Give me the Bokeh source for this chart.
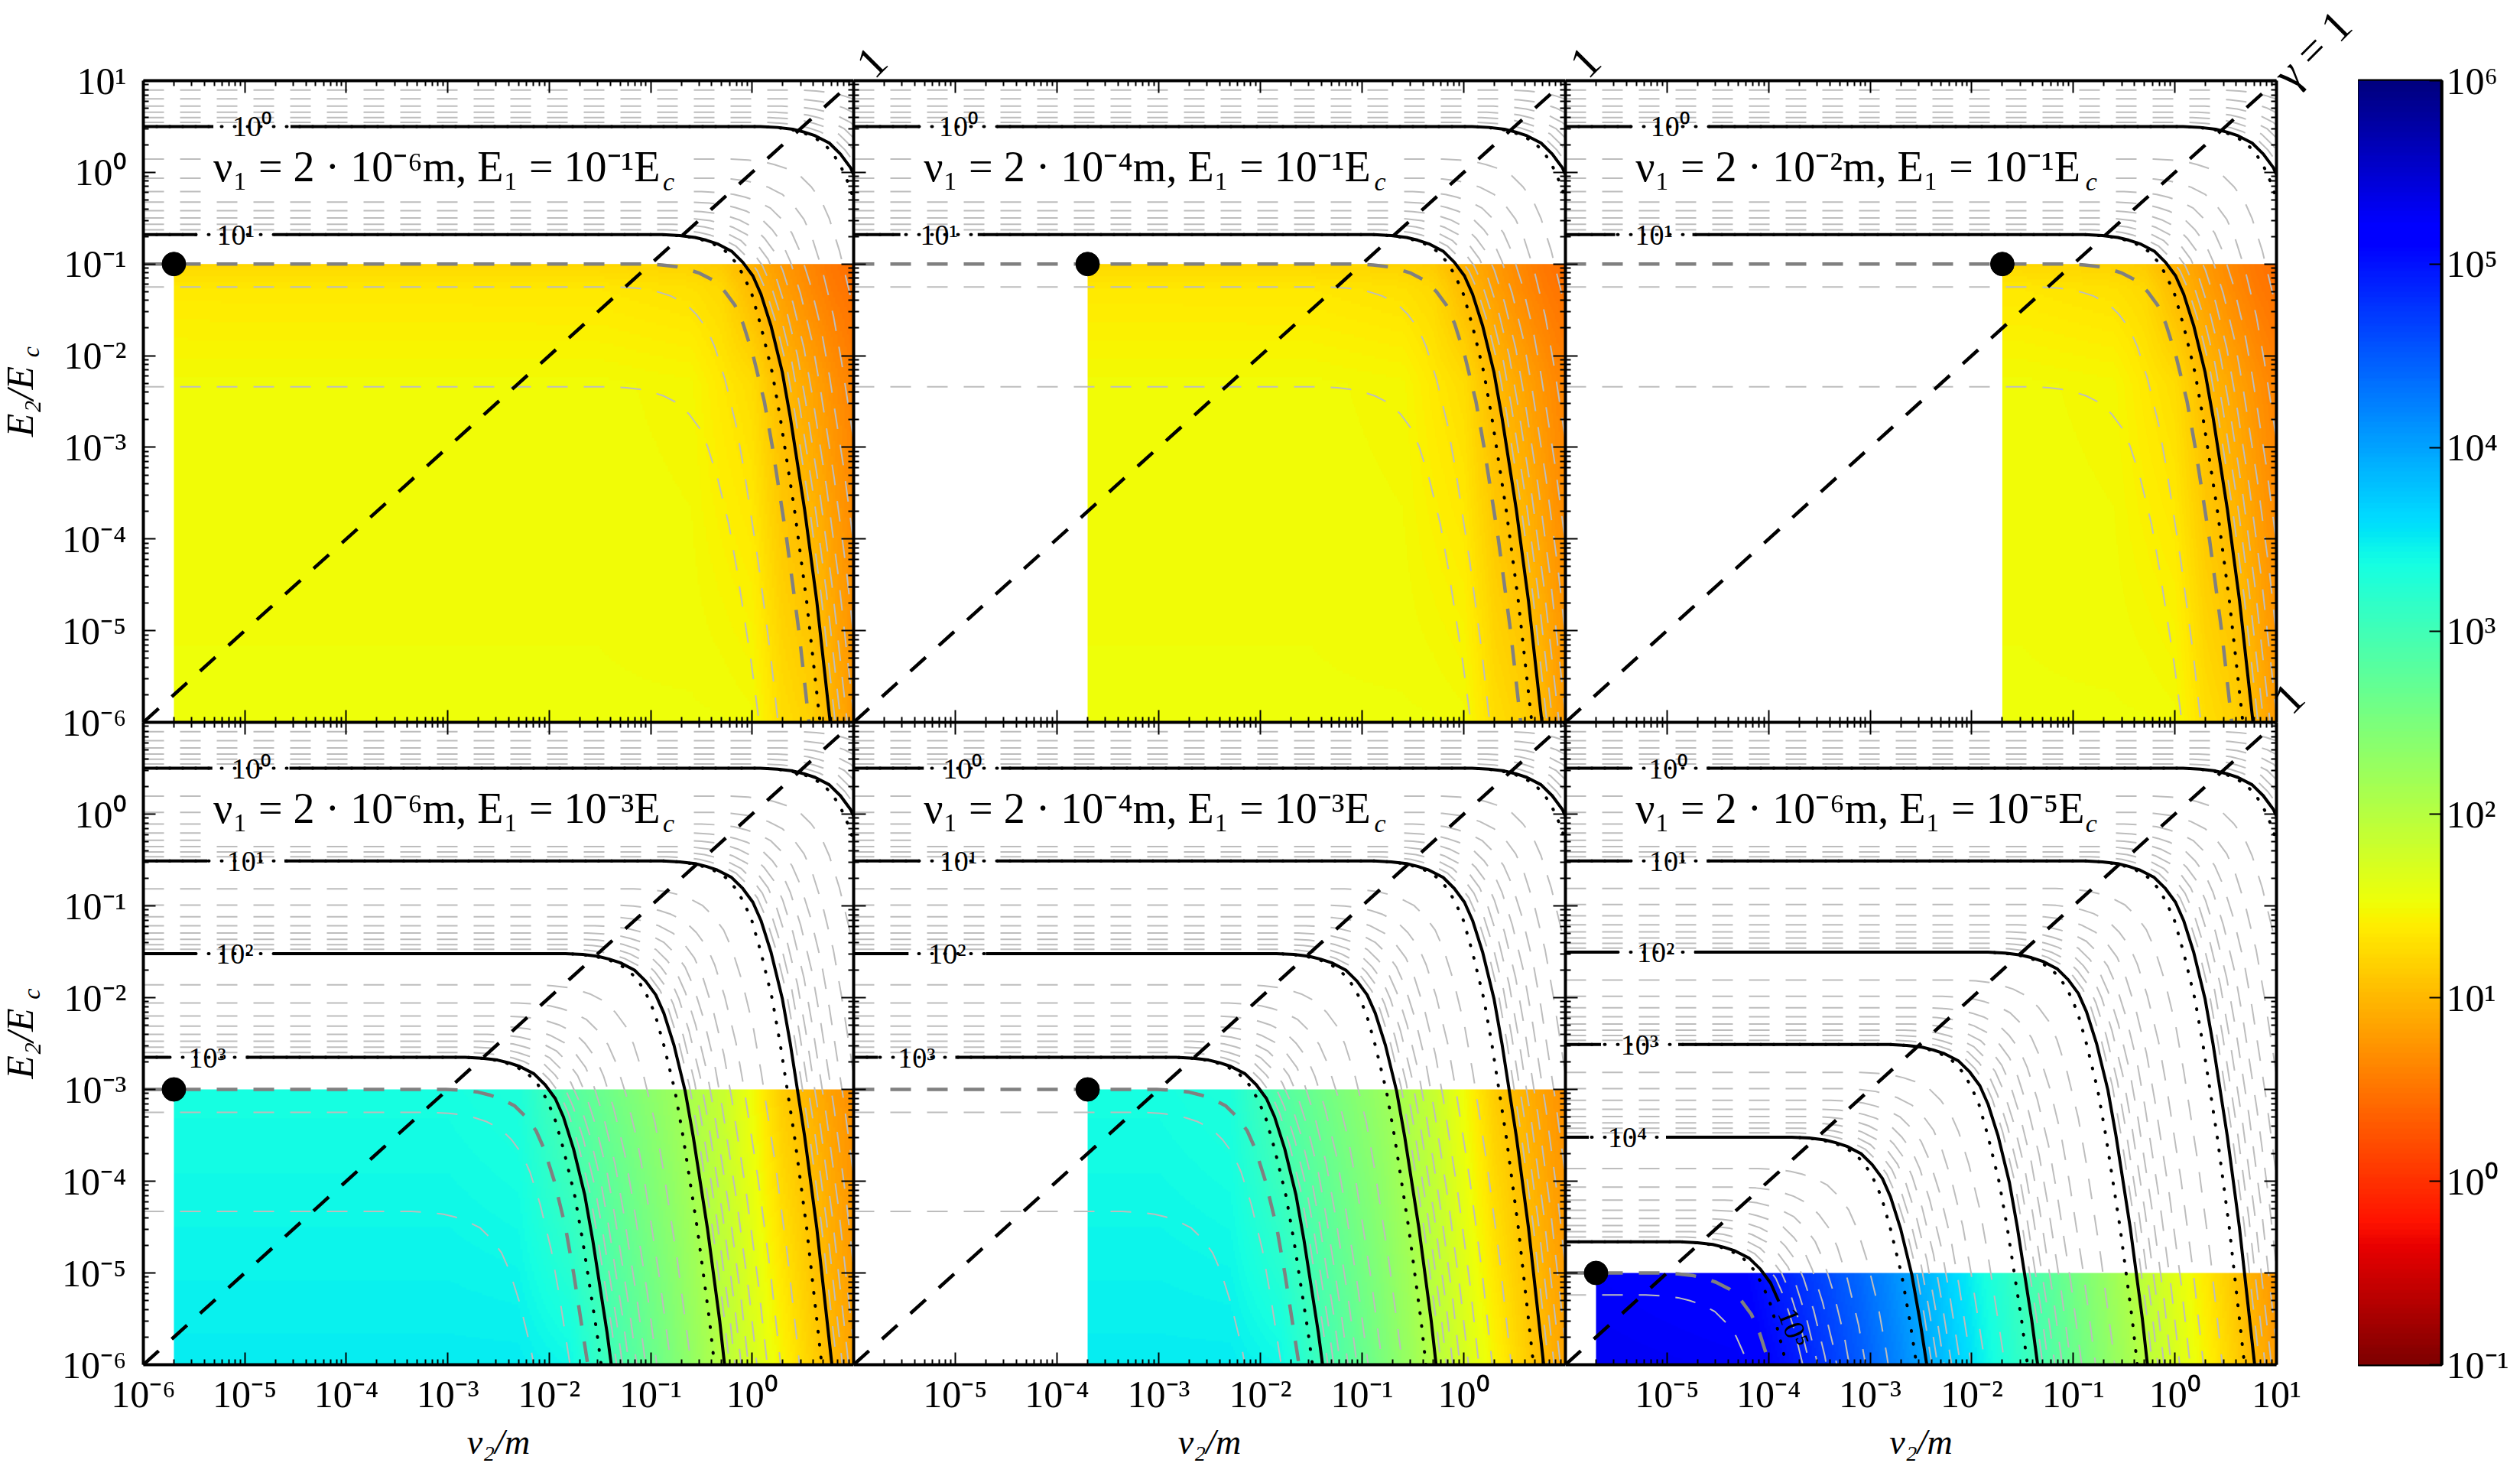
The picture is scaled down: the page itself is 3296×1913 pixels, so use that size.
from math import pi

import numpy as np
from bokeh.core.properties import value
from bokeh.embed import file_html
from bokeh.layouts import column, row
from bokeh.models import FixedTicker, LinearColorMapper, LogAxis, Range1d
from bokeh.plotting import figure
from bokeh.resources import INLINE

SERIF = "Liberation Serif"
SUP = str.maketrans("-0123456789", "⁻⁰¹²³⁴⁵⁶⁷⁸⁹")

# shape of a contour: decades below its flat part / decades from its knee
SHAPE_V = [0, -.01, -.03, -.06, -.1, -.18, -.3, -.45, -.65, -1, -1.5, -2, -3, -4, -5.5, -7, -9]
SHAPE_U = [-1.07, -.9, -.75, -.64, -.53, -.39, -.28, -.18, -.1, 0, .11, .19, .33, .45, .6, .75, .93]
SHAPE_U_DOTTED = [-1.07, -.92, -.78, -.67, -.57, -.45, -.35, -.27, -.19, -.1, .01, .09, .23, .35, .5, .65, .83]
MANTISSAS = [2, 3, 4, 5, 6, 7, 8, 9]
TOP_MANTISSAS = [3, 4, 5, 6, 7, 8, 9]

# contours by level exponent: flat height (log10 E2) and knee position (log10 nu2)
A_LEVELS = [-1, 0, 1]
A_FLAT = [1.5, .5, -.68]
A_KNEE = [2.11, 1.15, .187]
A_THIN_FLAT = [-1.25, -2.34]
A_THIN_KNEE = [-.27, -.34]
A_DARK_KNEE = .01

B_LEVELS = [-1, 0, 1, 2, 3]
B_FLAT = [1.5, .5, -.51, -1.52, -2.65]
B_KNEE = [2.11, 1.15, .187, -.77, -1.76]
B_THIN_FLAT = [-3.25, -4.33]
B_THIN_KNEE = [-2.09, -2.29]
B_DARK_KNEE = -1.95

C_LEVELS = [-1, 0, 1, 2, 3, 4, 5]
C_FLAT = [1.5, .5, -.51, -1.505, -2.51, -3.52, -4.66]
C_KNEE = [2.11, 1.15, .186, -.77, -1.74, -2.7, -3.8]
C_THIN_FLAT = [-5.24]
C_THIN_KNEE = [-4.14]
C_DARK_KNEE = -3.99

# log10 gamma
A_X = [-6, -1.5, -.6, -.3, 0, .3, .6, .8, 1]
A_Y = [-6, -2.3, -1.25, -1]
A_Z = [[1.52, 1.52, 1.52, 1.52, 1.5, 1.28, 1.18, .98, .78],
       [1.5, 1.5, 1.47, 1.36, 1.27, 1.02, .85, .72, .6],
       [1.36, 1.35, 1.3, 1.24, 1.02, .82, .65, .55, .48],
       [1.24, 1.24, 1.2, 1.14, .95, .78, .62, .52, .45]]
B_X = [-6, -3, -2.3, -1.8, -1.4, -.8, -.28, .3, .8, 1]
B_Y = [-6, -3]
B_Z = [[3.5, 3.5, 3.5, 3.42, 3.02, 2.5, 2, 1.45, 1, .85],
       [3.36, 3.36, 3.3, 2.85, 2.6, 2.25, 1.85, 1.15, .82, .7]]
C_X = [-6, -4.3, -3.8, -3.1, -2.48, -1.37, -.29, .79, 1]
C_Y = [-6, -5]
C_Z = [[5.3, 5.25, 5, 4.5, 4, 3, 2, 1, .8],
       [5.25, 5.15, 4.85, 4.4, 3.9, 2.92, 1.92, .92, .75]]

# panels, left to right and top to bottom
PANEL_NU_EXP = [-6, -4, -2, -6, -4, -6]
PANEL_E_EXP = [-1, -1, -1, -3, -3, -5]
PANEL_FAMILY = ["A", "A", "A", "B", "B", "C"]
# centre of each contour label, decades from the left edge
PANEL_LABEL_AT = [[1.07, .91], [1.03, .84], [1.03, .87],
                  [1.06, 1.01, .9, .63], [1.07, 1.03, .92, .62], [1.01, 1.01, .89, .73, .61]]

MAJOR_EXP = [-6, -5, -4, -3, -2, -1, 0, 1]
CB_EXP = [-1, 0, 1, 2, 3, 4, 5, 6]
MAJOR_DIAG = [1e-6, 10.0]

FAMILIES = {
    "A": (A_LEVELS, A_FLAT, A_KNEE, A_THIN_FLAT, A_THIN_KNEE, A_DARK_KNEE, A_X, A_Y, A_Z),
    "B": (B_LEVELS, B_FLAT, B_KNEE, B_THIN_FLAT, B_THIN_KNEE, B_DARK_KNEE, B_X, B_Y, B_Z),
    "C": (C_LEVELS, C_FLAT, C_KNEE, C_THIN_FLAT, C_THIN_KNEE, C_DARK_KNEE, C_X, C_Y, C_Z),
}

# jet colormap, reversed below
JET_R = ([0, .35, .66, .89, 1], [0, 0, 1, 1, .5])
JET_G = ([0, .125, .375, .64, .91, 1], [0, 0, 1, 1, 0, 0])
JET_B = ([0, .11, .34, .65, 1], [.5, 1, 1, 0, 0])
f = np.linspace(1, 0, 256)
palette = ["#%02x%02x%02x" % tuple(int(round(255 * np.interp(t, *c))) for c in (JET_R, JET_G, JET_B)) for t in f]
mapper = LinearColorMapper(palette=palette, low=-1, high=6)


def tex_pow(e):
    return "10" + str(e).translate(SUP)


major = [10.0 ** e for e in MAJOR_EXP]
minor = [m * 10.0 ** e for e in MAJOR_EXP[:-1] for m in MANTISSAS]


def style_axis(ax, ticks=major, minors=minor):
    ax.ticker = FixedTicker(ticks=ticks, minor_ticks=minors)
    ax.axis_line_width = 4
    ax.axis_line_color = "black"
    ax.major_tick_in = 16
    ax.major_tick_out = 0
    ax.minor_tick_in = 7
    ax.minor_tick_out = 0
    ax.major_tick_line_width = 2
    ax.minor_tick_line_width = 2
    ax.major_label_text_font = SERIF
    ax.major_label_text_color = "black"
    ax.major_label_overrides = {t: "" for t in ticks}
    ax.major_label_text_font_size = "1px"
    ax.major_label_standoff = 0


def show_labels(ax, exps, standoff):
    ax.major_label_overrides = {10.0 ** e: (tex_pow(e) if e in exps else "") for e in MAJOR_EXP}
    ax.major_label_text_font_size = "50px"
    ax.major_label_standoff = standoff


def text_axis(p, side, ticks, labels, standoff, size="58px", angle=pi / 4, style="normal"):
    # an axis with no line or ticks, only to put a turned text outside the frame
    ax = LogAxis(ticker=FixedTicker(ticks=ticks, minor_ticks=[]), axis_line_color=None,
                 major_tick_line_color=None, minor_tick_line_color=None, major_tick_in=0, major_tick_out=0,
                 minor_tick_in=0, minor_tick_out=0, major_label_orientation=angle,
                 major_label_overrides=dict(zip(ticks, labels)), major_label_standoff=standoff,
                 major_label_text_font=SERIF, major_label_text_font_size=size, major_label_text_color="black",
                 major_label_text_font_style=style)
    p.add_layout(ax, side)


def curve(flat, knee, us=SHAPE_U, start=None, stop_v=None):
    xs = [1e-6 if start is None else start]
    ys = [10 ** flat]
    for v, u in zip(SHAPE_V, us):
        x = 10 ** (knee + u)
        if start is not None and x <= start:
            continue
        if stop_v is not None and v < stop_v:
            break
        xs.append(x)
        ys.append(10 ** (flat + v))
    return xs, ys


def make_panel(i):
    levels, flats, knees, thin_flat, thin_knee, dark_knee, zx, zy, zz = FAMILIES[PANEL_FAMILY[i]]
    nu_exp, e_exp = PANEL_NU_EXP[i], PANEL_E_EXP[i]
    left = i in (0, 3)
    top = i < 3
    last = i in (2, 5)
    p = figure(x_axis_type="log", y_axis_type="log",
               x_range=Range1d(1e-6, 10), y_range=Range1d(1e-6, 10),
               frame_width=929 if left else (931 if i in (1, 4) else 930),
               frame_height=839 if top else 840,
               min_border_left=225 if left else 0, min_border_right=108 if last else 0,
               min_border_top=105 if top else 0, min_border_bottom=30 if top else 128,
               toolbar_location=None, output_backend="svg", border_fill_color=None,
               outline_line_color=None, margin=(0, 0, 0, -38) if left else 0)
    p.grid.visible = False
    bottom_ax, left_ax = p.below[0], p.left[0]
    style_axis(bottom_ax)
    style_axis(left_ax)
    for side in ("above", "right"):
        ax = LogAxis()
        style_axis(ax)
        p.add_layout(ax, side)

    if left:
        show_labels(left_ax, MAJOR_EXP if top else MAJOR_EXP[:-1], 22)
        left_ax.axis_label = "E₂/E"
        left_ax.axis_label_text_font = SERIF
        left_ax.axis_label_text_font_style = "italic"
        left_ax.axis_label_text_color = "black"
        left_ax.axis_label_text_font_size = "50px"
        left_ax.axis_label_standoff = 24
        text_axis(p, "left", [10 ** -1.9], ["c"], -45, "32px", pi / 2, "italic")
    if not top:
        shown = {3: MAJOR_EXP[:-1], 4: MAJOR_EXP[1:-1], 5: MAJOR_EXP[1:]}[i]
        show_labels(bottom_ax, shown, 10)
        bottom_ax.axis_label = "ν₂/m"
        bottom_ax.axis_label_text_font = SERIF
        bottom_ax.axis_label_text_font_style = "italic"
        bottom_ax.axis_label_text_color = "black"
        bottom_ax.axis_label_text_font_size = "46px"
        bottom_ax.axis_label_standoff = 6

    # heat map
    x_lo = np.log10(2) + nu_exp
    gx = np.linspace(x_lo, 1, 300)
    gy = np.linspace(-6, e_exp, 150)
    rows = np.array([np.interp(gx, zx, r) for r in zz])
    img = np.array([[np.interp(y, zy, rows[:, c]) for c in range(len(gx))] for y in gy])
    x1 = 2 * 10.0 ** nu_exp
    E1 = 10.0 ** e_exp
    p.image(image=[img], x=x1, y=1e-6, dw=10 - x1, dh=E1 - 1e-6, color_mapper=mapper)

    # light contours
    gray = dict(line_color="#bdbdbd", line_width=2, line_dash="27 21")
    for k in range(len(levels) - 1):
        for m in (TOP_MANTISSAS if k == 0 else MANTISSAS):
            t = np.log10(m)
            fl = flats[k] + (flats[k + 1] - flats[k]) * t
            kn = knees[k] + (knees[k + 1] - knees[k]) * t
            xs, ys = curve(fl, kn)
            p.line(xs, ys, **gray)
    for fl, kn in zip(thin_flat, thin_knee):
        xs, ys = curve(fl, kn)
        p.line(xs, ys, **gray)

    # white box under the caption
    p.quad(left=10 ** -5.39, right=10 ** -.71, bottom=10 ** -.3, top=10 ** .334,
           fill_color="white", line_color=None)

    xs, ys = curve(e_exp, dark_knee)
    p.line(xs, ys, line_color="#808080", line_width=4.5, line_dash="27 21")

    # black contours with their labels
    at = PANEL_LABEL_AT[i]
    for k, lev in enumerate(levels[1:]):
        fl, kn = flats[k + 1], knees[k + 1]
        xs, ys = curve(fl, kn, SHAPE_U_DOTTED)
        p.line(xs, ys, line_color="black", line_width=4, line_dash="1 16", line_cap="round")
        if lev == 5:
            xs, ys = curve(fl, kn, stop_v=-.65)
            p.line(xs, ys, line_color="black", line_width=4)
            p.text([10 ** -3.75], [10 ** -5.6], text=[tex_pow(lev)], angle=-1.2, text_align="center",
                   text_baseline="middle", text_font=value(SERIF), text_font_size="38px")
            continue
        c = at[k] - 6
        p.line([1e-6, 10 ** (c - .38)], [10 ** fl, 10 ** fl], line_color="black", line_width=4)
        xs, ys = curve(fl, kn, start=10 ** (c + .38))
        p.line(xs, ys, line_color="black", line_width=4)
        p.text([10 ** c], [10 ** fl], text=[tex_pow(lev)], text_align="center", text_baseline="middle",
               text_font=value(SERIF), text_font_size="38px")

    # gamma = 1
    p.line(MAJOR_DIAG, MAJOR_DIAG, line_color="black", line_width=4.5, line_dash="27 23")
    p.scatter([x1], [E1], size=31, color="black")

    p.text([10 ** -5.31], [10 ** .06],
           text=["ν₁ = 2 · %sm, E₁ = %sE" % (tex_pow(nu_exp), tex_pow(e_exp))],
           text_baseline="middle", text_font=value(SERIF), text_font_size="56px")
    p.text([10 ** -.88], [10 ** -.1], text=["c"], text_baseline="middle", text_font=value(SERIF),
           text_font_style="italic", text_font_size="34px")
    return p


panels = [make_panel(i) for i in range(6)]

text_axis(panels[1], "above", [10 ** -5.9], ["1"], 14)
text_axis(panels[2], "above", [10 ** -5.88], ["1"], 14)
text_axis(panels[2], "right", [10.0, 10 ** -5.82], ["γ = 1", "1"], 6)

# colour bar
cb = figure(y_axis_type="log", x_range=Range1d(0, 1), y_range=Range1d(1e-1, 1e6),
            frame_width=109, frame_height=1679, min_border_left=0, min_border_right=102,
            min_border_top=105, min_border_bottom=128, toolbar_location=None, output_backend="svg",
            y_axis_location="right", border_fill_color=None, outline_line_color="black", outline_line_width=4,
            margin=(0, 0, 0, -30))
cb.grid.visible = False
cb.below[0].visible = False
cb_grad = np.linspace(-1, 6, 700).reshape(-1, 1)
cb.image(image=[cb_grad], x=0, y=1e-1, dw=1, dh=1e6 - 1e-1, color_mapper=mapper)
style_axis(cb.right[0], [10.0 ** e for e in CB_EXP], [])
cb.right[0].major_label_overrides = {10.0 ** e: tex_pow(e) for e in CB_EXP}
cb.right[0].major_label_text_font_size = "50px"
cb.right[0].major_label_standoff = 6
cb.right[0].minor_tick_in = 0

top_row = row(panels[0], panels[1], panels[2])
bottom_row = row(panels[3], panels[4], panels[5], margin=(-30, 0, 0, 0))
layout = row(column(top_row, bottom_row), cb)
open("out.html", "w").write(file_html(layout, INLINE))
